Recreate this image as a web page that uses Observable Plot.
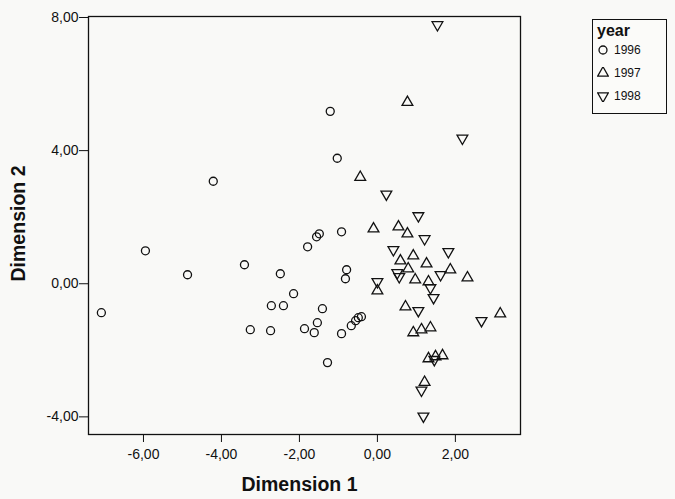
<!DOCTYPE html>
<html>
<head>
<meta charset="utf-8">
<script src="https://cdn.jsdelivr.net/npm/d3@7"></script>
<script src="https://cdn.jsdelivr.net/npm/@observablehq/plot@0.6"></script>
<style>
  html, body { margin: 0; padding: 0; background: #f9f9f7; }
  #wrap { position: relative; width: 675px; height: 499px; font-family: "Liberation Sans", Arial, sans-serif; }
  #legend { position: absolute; left: 592px; top: 19px; width: 75px; height: 95px; border: 1px solid #111; box-sizing: border-box; background: #fbfbf9; }
  #legend .title { position: absolute; left: 4px; top: 2px; font-weight: bold; font-size: 16px; color: #111; }
  #legend .row { position: absolute; left: 4px; font-size: 12px; color: #111; display: flex; align-items: center; }
  #legend .row svg { margin-right: 5px; }
</style>
</head>
<body>
<div id="wrap"><div id="chart"></div><div id="legend"></div></div>
<script>
// ---- data ----
const years = ["1996", "1997", "1998"];
const x1996 = [-7.08, -5.95, -4.87, -4.21, -3.41, -3.26, -2.74, -2.72, -2.49, -2.41, -2.15, -1.87, -1.79, -1.56, -1.49, -1.62, -1.54, -1.41, -1.28, -1.21, -1.03, -0.92, -0.92, -0.79, -0.82, -0.67, -0.56, -0.49, -0.41];
const y1996 = [-0.87, 0.99, 0.27, 3.08, 0.57, -1.38, -1.41, -0.66, 0.30, -0.66, -0.30, -1.35, 1.11, 1.41, 1.50, -1.47, -1.17, -0.75, -2.37, 5.18, 3.77, 1.56, -1.50, 0.42, 0.15, -1.26, -1.11, -1.02, -0.99];
const x1997 = [0.77, -0.44, -0.10, 0.54, 0.77, 0.92, 0.59, 1.26, 0.79, 0.97, 1.31, 1.87, 2.31, 0.00, 0.72, 3.15, 0.92, 1.13, 1.36, 1.31, 1.49, 1.67, 1.21];
const y1997 = [5.45, 3.20, 1.65, 1.71, 1.50, 0.84, 0.69, 0.60, 0.45, 0.12, 0.06, 0.42, 0.18, -0.21, -0.69, -0.90, -1.47, -1.38, -1.32, -2.25, -2.19, -2.16, -2.96];
const x1998 = [1.54, 2.18, 0.23, 1.05, 1.21, 0.41, 1.82, 0.51, 0.56, 1.62, 1.36, 1.44, 0.00, 1.05, 2.67, 1.46, 1.13, 1.18];
const y1998 = [7.78, 4.37, 2.69, 2.04, 1.35, 1.02, 0.96, 0.33, 0.21, 0.27, -0.12, -0.42, 0.06, -0.81, -1.11, -2.28, -3.20, -3.98];
const xTicks = [-6, -4, -2, 0, 2];
const yTicks = [-4, 0, 4, 8];
const xLabel = "Dimension 1";
const yLabel = "Dimension 2";
const legendTitle = "year";

// table built from the arrays
const series = [[x1996, y1996], [x1997, y1997], [x1998, y1998]];
const data = years.flatMap((yr, i) => series[i][0].map((x, j) => ({year: yr, x, y: series[i][1][j]})));

// downward triangle symbol
const triangleDown = {
  draw(context, size) {
    const y = -Math.sqrt(size / (Math.sqrt(3) * 3));
    context.moveTo(0, -y * 2);
    context.lineTo(-Math.sqrt(3) * y, y);
    context.lineTo(Math.sqrt(3) * y, y);
    context.closePath();
  }
};
const symbols = [d3.symbolCircle, d3.symbolTriangle, triangleDown];
const fmt = d => d.toFixed(2).replace(".", ",");

const plot = Plot.plot({
  width: 675,
  height: 499,
  marginLeft: 88,
  marginRight: 155,
  marginTop: 16,
  marginBottom: 65,
  style: {background: "#f9f9f7", fontFamily: "Liberation Sans, Arial, sans-serif", fontSize: "14px", color: "#111"},
  x: {domain: [-7.41, 3.67], ticks: xTicks, tickFormat: fmt, tickSize: 8, tickPadding: 7, label: null},
  y: {domain: [-4.53, 8.03], ticks: yTicks, tickFormat: fmt, tickSize: 9, tickPadding: 1, label: null},
  symbol: {domain: years, range: symbols},
  marks: [
    Plot.frame({stroke: "#111", strokeWidth: 1.3}),
    Plot.dot(data, {x: "x", y: "y", symbol: "year", r: 4, stroke: "#111", fill: "none", strokeWidth: 1.3}),
    Plot.text([xLabel], {frameAnchor: "bottom", textAnchor: "middle", dx: -5, dy: 56, fontWeight: "bold", fontSize: 19.5, fill: "#111"}),
    Plot.text([yLabel], {frameAnchor: "left", textAnchor: "middle", dx: -70, dy: -2, rotate: -90, fontWeight: "bold", fontSize: 19.5, fill: "#111"})
  ]
});
document.getElementById("chart").appendChild(plot);

// legend
const legend = d3.select("#legend");
legend.append("div").attr("class", "title").text(legendTitle);
years.forEach((yr, i) => {
  const row = legend.append("div").attr("class", "row").style("top", (23 + i * 23) + "px");
  const svg = row.append("svg").attr("width", 12).attr("height", 12);
  svg.append("path")
    .attr("transform", "translate(6,6)")
    .attr("d", d3.symbol(symbols[i], 50)())
    .attr("fill", "none").attr("stroke", "#111").attr("stroke-width", 1.3);
  row.append("span").text(yr);
});
</script>
</body>
</html>
